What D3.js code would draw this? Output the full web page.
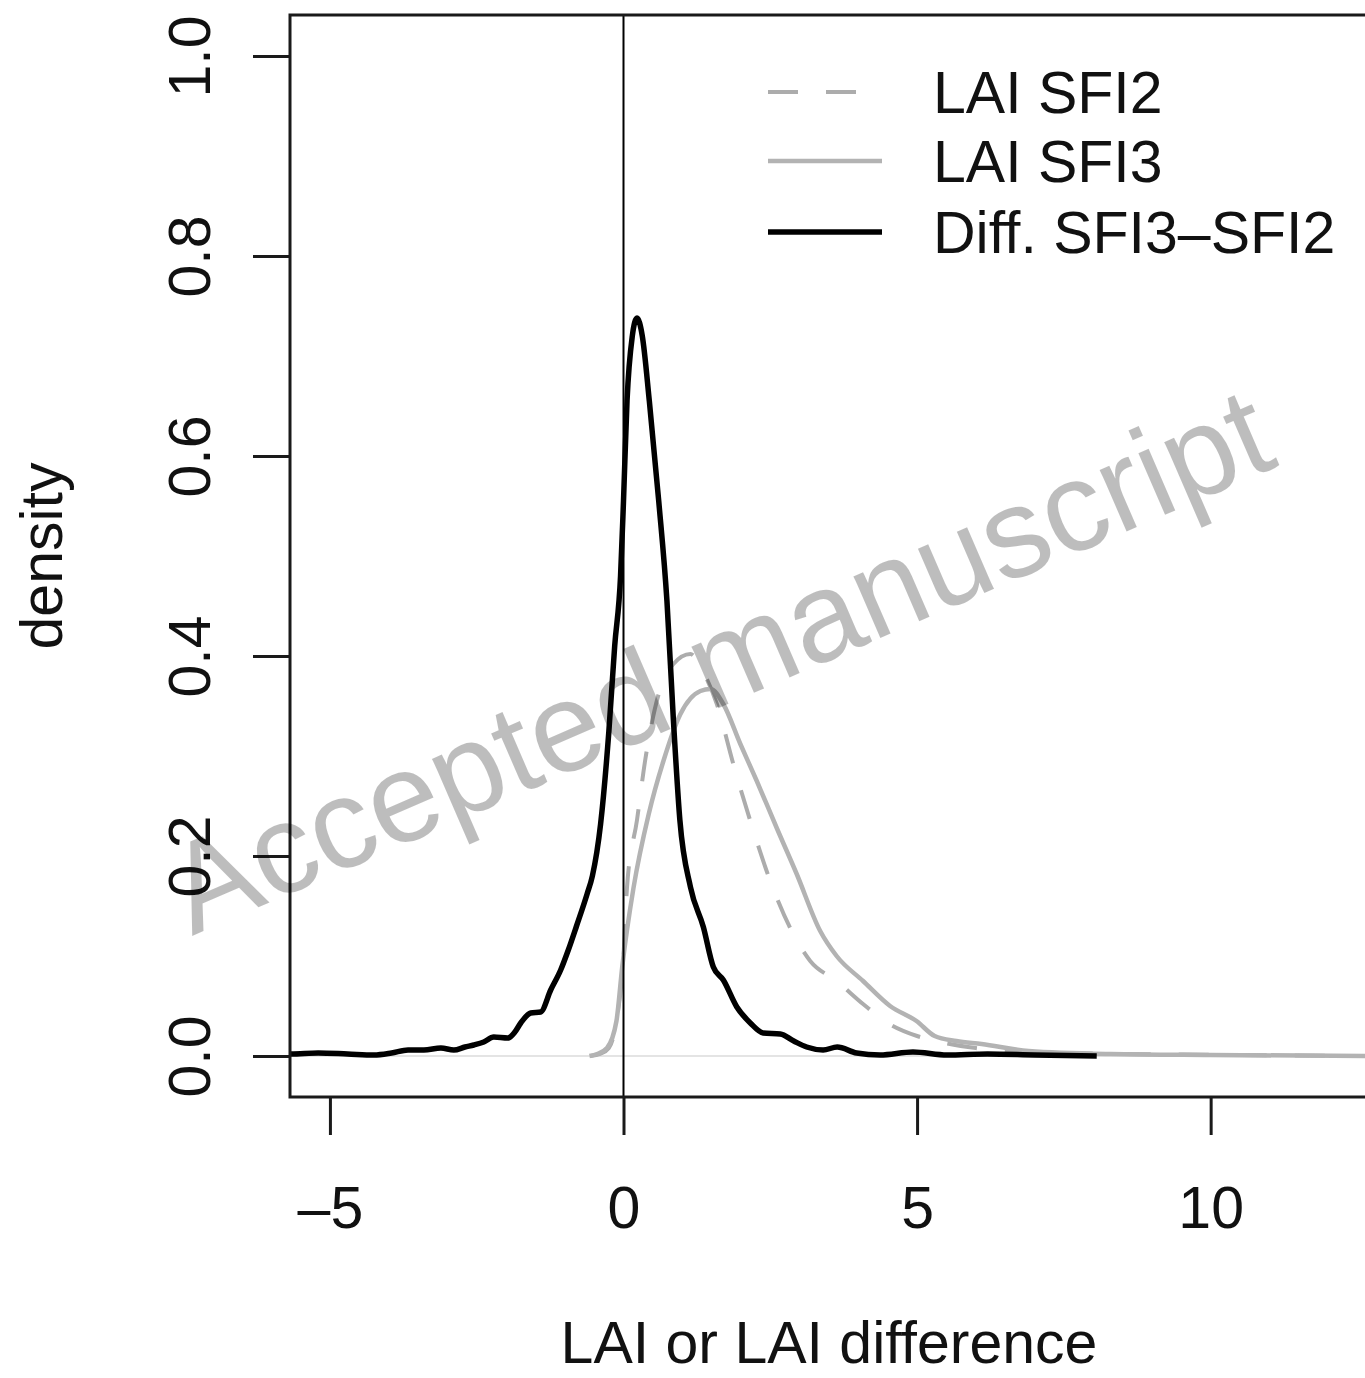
<!DOCTYPE html>
<html>
<head>
<meta charset="utf-8">
<script src="https://cdn.jsdelivr.net/npm/d3@7"></script>
<style>
  body { margin: 0; background: #fff; }
  svg { display: block; font-family: "Liberation Sans", Arial, Helvetica, sans-serif; }
</style>
</head>
<body>
<svg width="1365" height="1378"></svg>
<script>
// density curves
var diffX = [-5.9, -5.66, -5.2, -4.7, -4.25, -3.95, -3.67, -3.4, -3.11, -2.89, -2.7, -2.55, -2.38, -2.21, -1.97, -1.85, -1.75, -1.58, -1.41, -1.24, -1.07, -0.94, -0.8, -0.62, -0.53, -0.39, -0.25, -0.15, -0.05, 0.0, 0.06, 0.15, 0.23, 0.32, 0.44, 0.6, 0.74, 0.85, 0.96, 1.14, 1.36, 1.53, 1.7, 1.93, 2.16, 2.38, 2.67, 2.9, 3.12, 3.4, 3.64, 3.97, 4.37, 4.93, 5.51, 6.2, 7.0, 8.06];
var diffY = [0.002, 0.002, 0.003, 0.002, 0.001, 0.003, 0.006, 0.006, 0.008, 0.006, 0.009, 0.011, 0.014, 0.019, 0.018, 0.024, 0.033, 0.043, 0.044, 0.066, 0.086, 0.106, 0.13, 0.162, 0.18, 0.232, 0.324, 0.41, 0.48, 0.555, 0.655, 0.72, 0.738, 0.72, 0.655, 0.555, 0.455, 0.336, 0.236, 0.169, 0.129, 0.089, 0.076, 0.049, 0.033, 0.023, 0.022, 0.015, 0.009, 0.006, 0.009, 0.003, 0.001, 0.004, 0.001, 0.002, 0.001, 0.0];

var sfi2X = [-0.56, -0.4, -0.25, -0.12, 0.0, 0.06, 0.23, 0.37, 0.63, 0.85, 1.14, 1.35, 1.59, 1.87, 2.16, 2.5, 2.84, 3.18, 3.63, 4.08, 4.5, 5.0, 5.4, 6.0, 7.0, 8.5, 10.5, 12.7];
var sfi2Y = [0.0, 0.002, 0.008, 0.035, 0.1, 0.169, 0.236, 0.296, 0.368, 0.392, 0.402, 0.385, 0.352, 0.292, 0.235, 0.175, 0.128, 0.095, 0.075, 0.052, 0.033, 0.02, 0.014, 0.008, 0.004, 0.002, 0.001, 0.0];

var sfi3X = [-0.58, -0.45, -0.28, -0.12, -0.02, 0.17, 0.43, 0.68, 0.97, 1.31, 1.48, 1.7, 1.99, 2.27, 2.61, 2.95, 3.35, 3.63, 4.08, 4.54, 4.99, 5.3, 5.67, 6.1, 6.9, 8.3, 10, 12.7];
var sfi3Y = [0.0, 0.002, 0.008, 0.035, 0.09, 0.168, 0.242, 0.295, 0.342, 0.365, 0.367, 0.352, 0.312, 0.275, 0.228, 0.182, 0.125, 0.1, 0.075, 0.05, 0.035, 0.02, 0.015, 0.012, 0.005, 0.002, 0.001, 0.0];

var xTicks = [-5, 0, 5, 10];
var yTicks = [0, 0.2, 0.4, 0.6, 0.8, 1.0];
var legendLabels = ["LAI SFI2", "LAI SFI3", "Diff. SFI3\u2013SFI2"];

var svg = d3.select("svg");
var boxL = 290, boxR = 1368, boxT = 15, boxB = 1097;

var x = d3.scaleLinear().domain([-5.68, 12.68]).range([boxL, boxR]);
var y = d3.scaleLinear().domain([-0.04, 1.04]).range([1096, 16]);

svg.append("rect").attr("width", 1365).attr("height", 1378).attr("fill", "#fff");

var defs = svg.append("defs");
defs.append("clipPath").attr("id", "plotclip")
  .append("rect").attr("x", boxL).attr("y", boxT).attr("width", boxR - boxL).attr("height", boxB - boxT);

var plot = svg.append("g").attr("clip-path", "url(#plotclip)");

// zero line
plot.append("line")
  .attr("x1", boxL).attr("x2", boxR)
  .attr("y1", y(0)).attr("y2", y(0))
  .attr("stroke", "#e4e4e4").attr("stroke-width", 2);

var line = d3.line()
  .x(function (d) { return x(d[0]); })
  .y(function (d) { return y(d[1]); })
  .curve(d3.curveMonotoneX);

function pairs(xs, ys) {
  return xs.map(function (v, i) { return [v, ys[i]]; });
}

plot.append("path")
  .datum(pairs(sfi2X, sfi2Y))
  .attr("d", line)
  .attr("fill", "none").attr("stroke", "#acacac").attr("stroke-width", 4)
  .attr("stroke-dasharray", "30,28");

plot.append("path")
  .datum(pairs(sfi3X, sfi3Y))
  .attr("d", line)
  .attr("fill", "none").attr("stroke", "#b3b3b3").attr("stroke-width", 4.5);

plot.append("path")
  .datum(pairs(diffX, diffY))
  .attr("d", line)
  .attr("fill", "none").attr("stroke", "#000").attr("stroke-width", 5.5)
  .attr("stroke-linejoin", "round");

// vertical line at 0
plot.append("line")
  .attr("x1", x(0)).attr("x2", x(0))
  .attr("y1", boxT).attr("y2", boxB)
  .attr("stroke", "#000").attr("stroke-width", 2);

// box
svg.append("rect")
  .attr("x", boxL).attr("y", boxT)
  .attr("width", boxR - boxL).attr("height", boxB - boxT)
  .attr("fill", "none").attr("stroke", "#1a1a1a").attr("stroke-width", 3);

// axes
var xAxis = svg.append("g")
  .attr("transform", "translate(0," + boxB + ")")
  .call(d3.axisBottom(x).tickValues(xTicks).tickSize(38).tickPadding(51)
    .tickFormat(function (d) { return d < 0 ? "\u2013" + Math.abs(d) : d; }));
xAxis.select(".domain").remove();
xAxis.selectAll(".tick line").attr("stroke", "#1a1a1a").attr("stroke-width", 3);
xAxis.selectAll(".tick text")
  .attr("font-size", 59).attr("font-family", "Liberation Sans, Arial, sans-serif")
  .attr("fill", "#111").attr("dy", "0.71em");

var yAxis = svg.append("g")
  .attr("transform", "translate(" + boxL + ",0)")
  .call(d3.axisLeft(y).tickValues(yTicks).tickSize(37).tickFormat(d3.format(".1f")));
yAxis.select(".domain").remove();
yAxis.selectAll(".tick line").attr("stroke", "#1a1a1a").attr("stroke-width", 3);
yAxis.selectAll(".tick text")
  .attr("transform", "rotate(-90)")
  .attr("x", 0).attr("y", -80).attr("dy", 0)
  .attr("text-anchor", "middle")
  .attr("font-size", 59).attr("font-family", "Liberation Sans, Arial, sans-serif")
  .attr("fill", "#111");

// axis titles
svg.append("text")
  .attr("x", (boxL + boxR) / 2).attr("y", 1363)
  .attr("text-anchor", "middle").attr("font-size", 59).attr("fill", "#111")
  .text("LAI or LAI difference");

svg.append("text")
  .attr("transform", "translate(62," + (boxT + boxB) / 2 + ") rotate(-90)")
  .attr("text-anchor", "middle").attr("font-size", 59).attr("fill", "#111")
  .text("density");

// legend
var legendY = [92, 161, 232];
var legendStyle = [
  { stroke: "#acacac", width: 4, dash: "30,28" },
  { stroke: "#b3b3b3", width: 4.5, dash: null },
  { stroke: "#000", width: 5.5, dash: null }
];
legendLabels.forEach(function (lab, i) {
  svg.append("line")
    .attr("x1", 768).attr("x2", 882)
    .attr("y1", legendY[i]).attr("y2", legendY[i])
    .attr("stroke", legendStyle[i].stroke)
    .attr("stroke-width", legendStyle[i].width)
    .attr("stroke-dasharray", legendStyle[i].dash);
  svg.append("text")
    .attr("x", 933).attr("y", legendY[i]).attr("dy", "0.36em")
    .attr("font-size", 59).attr("fill", "#111")
    .text(lab);
});

// watermark
svg.append("text")
  .attr("transform", "translate(192,936) rotate(-23.4)")
  .attr("font-size", 127).attr("fill", "#000").attr("fill-opacity", 0.26)
  .text("Accepted manuscript");
</script>
</body>
</html>
